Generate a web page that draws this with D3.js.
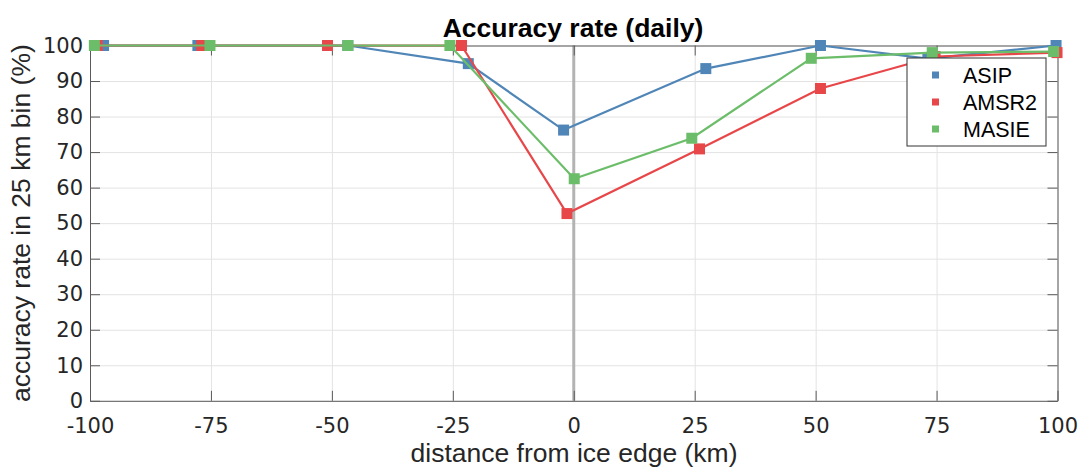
<!DOCTYPE html>
<html>
<head>
<meta charset="utf-8">
<script src="https://cdn.jsdelivr.net/npm/d3@7"></script>
<style>
  body { margin: 0; background: #fff; }
  text { font-family: "Liberation Sans", Arial, Helvetica, sans-serif; fill: #262626; }
  .tick text { font-family: "DejaVu Sans", sans-serif; }
</style>
</head>
<body>
<div id="svg"></div>
<script>
// distance from ice edge (km) and accuracy rate (%) per product
const asipX  = [-97.2, -77.7, -46.7, -21.8, -2.1, 27.3, 51.0, 73.2, 99.7]
const asipY  = [100, 100, 100, 94.9, 76.2, 93.5, 100, 96.3, 100]
const amsr2X = [-98.5, -76.9, -50.9, -23.2, -1.4, 26.0, 51.0, 74.7, 99.9]
const amsr2Y = [100, 100, 100, 100, 52.7, 70.9, 87.9, 96.9, 98.0]
const masieX = [-99.1, -75.2, -46.7, -25.6, 0.1, 24.4, 49.1, 74.1, 99.2]
const masieY = [100, 100, 100, 100, 62.5, 73.9, 96.4, 98.0, 98.3]

const seriesNames = ['ASIP', 'AMSR2', 'MASIE']
const xTicks = [-100, -75, -50, -25, 0, 25, 50, 75, 100]
const yTicks = [0, 10, 20, 30, 40, 50, 60, 70, 80, 90, 100]

const colors = { ASIP: '#5086b7', AMSR2: '#e8474a', MASIE: '#6cbd69' }

const W = 1079, H = 468
const pLeft = 90, pRight = 1057.5, pTop = 45.5, pBottom = 400.8

const x = d3.scaleLinear().domain([-100, 100]).range([pLeft, pRight])
const y = d3.scaleLinear().domain([0, 100]).range([pBottom, pTop])

const series = [
    { name: 'ASIP', pts: asipX.map((v, i) => [v, asipY[i]]) },
    { name: 'AMSR2', pts: amsr2X.map((v, i) => [v, amsr2Y[i]]) },
    { name: 'MASIE', pts: masieX.map((v, i) => [v, masieY[i]]) }
]

const svg = d3.select('#svg')
    .append('svg')
    .attr('width', W)
    .attr('height', H)

// grid
svg.append('g')
    .attr('transform', 'translate(0,' + pBottom + ')')
    .call(d3.axisBottom(x).tickValues(xTicks).tickSize(-(pBottom - pTop)).tickFormat(''))
    .call(g => g.select('.domain').remove())
    .selectAll('line').attr('stroke', '#e3e3e3')

svg.append('g')
    .attr('transform', 'translate(' + pLeft + ',0)')
    .call(d3.axisLeft(y).tickValues(yTicks).tickSize(-(pRight - pLeft)).tickFormat(''))
    .call(g => g.select('.domain').remove())
    .selectAll('line').attr('stroke', '#e3e3e3')

// ice edge line
svg.append('line')
    .attr('x1', x(0)).attr('x2', x(0))
    .attr('y1', pTop).attr('y2', pBottom)
    .attr('stroke', '#b3b3b3')
    .attr('stroke-width', 3)

// axes box + ticks (plain hyphen for negatives)
const axisColor = '#5a5a5a'
const fmt = d => String(d)
const xb = svg.append('g')
    .attr('transform', 'translate(0,' + pBottom + ')')
    .call(d3.axisBottom(x).tickValues(xTicks).tickFormat(fmt).tickSize(-10).tickPadding(17).tickSizeOuter(0))
xb.selectAll('text').attr('font-size', 21).attr('dy', '0.71em')
xb.selectAll('line').attr('stroke', axisColor)
xb.select('.domain').attr('stroke', axisColor)

const xt = svg.append('g')
    .attr('transform', 'translate(0,' + pTop + ')')
    .call(d3.axisTop(x).tickValues(xTicks).tickSize(-10).tickFormat('').tickSizeOuter(0))
xt.selectAll('line').attr('stroke', axisColor)
xt.select('.domain').attr('stroke', axisColor)

const yl = svg.append('g')
    .attr('transform', 'translate(' + pLeft + ',0)')
    .call(d3.axisLeft(y).tickValues(yTicks).tickFormat(fmt).tickSize(-10).tickPadding(7).tickSizeOuter(0))
yl.selectAll('text').attr('font-size', 21)
yl.selectAll('line').attr('stroke', axisColor)
yl.select('.domain').attr('stroke', axisColor)

const yr = svg.append('g')
    .attr('transform', 'translate(' + pRight + ',0)')
    .call(d3.axisRight(y).tickValues(yTicks).tickSize(-10).tickFormat('').tickSizeOuter(0))
yr.selectAll('line').attr('stroke', axisColor)
yr.select('.domain').attr('stroke', axisColor)

// lines and markers
const line = d3.line().x(d => x(d[0])).y(d => y(d[1]))
series.forEach(s => {
    svg.append('path')
        .datum(s.pts)
        .attr('d', line)
        .attr('fill', 'none')
        .attr('stroke', colors[s.name])
        .attr('stroke-width', 2.2)
    svg.selectAll('.m-' + s.name)
        .data(s.pts)
        .enter()
        .append('rect')
        .attr('x', d => x(d[0]) - 5.5)
        .attr('y', d => y(d[1]) - 5.5)
        .attr('width', 11)
        .attr('height', 11)
        .attr('fill', colors[s.name])
})

// title and labels
svg.append('text')
    .attr('x', 573)
    .attr('y', 37)
    .attr('text-anchor', 'middle')
    .attr('font-size', 26.5)
    .attr('font-weight', 'bold')
    .style('fill', '#000')
    .text('Accuracy rate (daily)')

svg.append('text')
    .attr('x', 574)
    .attr('y', 462)
    .attr('text-anchor', 'middle')
    .attr('font-size', 26.5)
    .text('distance from ice edge (km)')

svg.append('text')
    .attr('transform', 'translate(30,' + (pTop + pBottom) / 2 + ') rotate(-90)')
    .attr('text-anchor', 'middle')
    .attr('font-size', 26.5)
    .text('accuracy rate in 25 km bin (%)')

// legend
const lg = svg.append('g').attr('transform', 'translate(907,58)')
lg.append('rect')
    .attr('width', 139)
    .attr('height', 88)
    .attr('fill', '#fff')
    .attr('stroke', '#333')
    .attr('stroke-width', 1)
seriesNames.forEach((n, i) => {
    lg.append('rect')
        .attr('x', 25)
        .attr('y', 17 + i * 27 - 3.5)
        .attr('width', 7)
        .attr('height', 7)
        .attr('fill', colors[n])
    lg.append('text')
        .attr('x', 56)
        .attr('y', 17 + i * 27)
        .attr('dy', '0.36em')
        .attr('font-size', 21.5)
        .style('fill', '#000')
        .text(n)
})
</script>
</body>
</html>
